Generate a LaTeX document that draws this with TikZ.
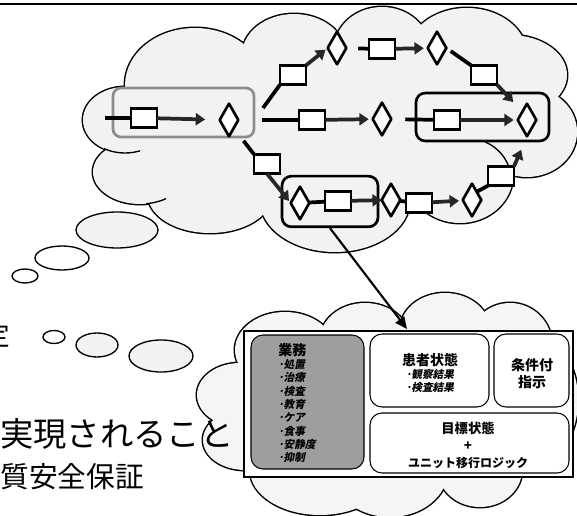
\documentclass[tikz,border=0pt]{standalone}
\usepackage{fontspec}
\newfontfamily\jp{Noto Sans CJK JP}
\newfontfamily\jpsl{Noto Sans CJK JP}[FakeSlant=0.2]
\usetikzlibrary{shapes.geometric,arrows.meta,calc}
\begin{document}
\begin{tikzpicture}[x=0.75pt,y=-0.75pt,
  prect/.style={draw=black, line width=2.1pt, fill=white, minimum width=19.5pt, minimum height=14.5pt, inner sep=0pt, outer sep=0pt},
  pdia/.style={diamond, draw=black, line width=2pt, line join=round, fill=white, minimum width=14pt, minimum height=24.5pt, inner sep=0pt, outer sep=0pt},
  link/.style={line width=2.8pt, black},
  flow/.style={line width=2.8pt, black!85, -{Triangle[length=7pt,width=9pt]}},
  gframe/.style={draw=black!45, line width=2pt, rounded corners=6pt, inner sep=0pt},
  bframe/.style={draw=black, line width=2pt, rounded corners=7pt, inner sep=0pt},
  cloudline/.style={line width=2.2pt, black},
  bubble/.style={draw=black, line width=1pt},
  ibox/.style={draw=black, line width=0.8pt, rounded corners=9pt, inner sep=0pt, fill=white},
  bigarrow/.style={line width=1.6pt, black, -{Triangle[length=9pt,width=8pt]}},
]
\useasboundingbox (0,0) rectangle (577,516);
\clip (0,0) rectangle (577,516);

% top rule
\coordinate (tl) at (0,4);
\coordinate (tr) at (577,4);
\draw[line width=1.4pt] (tl) -- (tr);

% ---------- top cloud (union of bumps) ----------
\def\topcloud{125/120/42/33, 140/172/47/32, 210/195/62/38, 335/200/75/52,
  460/175/53/48, 527/132/50/45, 510/75/57/40, 467/55/60/47, 382/50/48/43,
  294/55/52/41, 195/85/70/57, 320/130/170/80}
\foreach \cx/\cy/\rx/\ry in \topcloud
  \draw[cloudline] (\cx,\cy) ellipse [x radius=\rx, y radius=\ry];
\foreach \cx/\cy/\rx/\ry in \topcloud
  \fill[black!5] (\cx,\cy) ellipse [x radius=\rx, y radius=\ry];
\begin{scope}
  \clip (104,142) rectangle (140,160);
  \draw[line width=1pt] (125,120) ellipse [x radius=42, y radius=33];
\end{scope}
\begin{scope}
  \clip (146,192) rectangle (166,208);
  \draw[line width=1pt] (140,172) ellipse [x radius=47, y radius=32];
\end{scope}
\draw[line width=1pt] (512,180) .. controls (510,162) and (500,148) .. (485,142);

% ---------- thought bubbles ----------
\draw[bubble, fill=black!5] (117,230) ellipse [x radius=41, y radius=18];
\draw[bubble, fill=white] (62,258) ellipse [x radius=27, y radius=12];
\draw[bubble, fill=white] (25,276) ellipse [x radius=13, y radius=7];
\draw[bubble, fill=white] (54,337) ellipse [x radius=11, y radius=6.5];
\draw[bubble, fill=black!5] (97,345) ellipse [x radius=21, y radius=12];
\draw[bubble, fill=black!5] (161,356) ellipse [x radius=32, y radius=16];

% ---------- bottom cloud ----------
\def\botcloud{285/350/50/38, 365/340/45/37, 445/330/45/37, 510/345/42/42,
  540/400/38/60, 240/395/43/32, 245/440/42/30, 320/470/70/45, 390/470/58/47,
  480/470/42/37, 400/400/150/80}
\foreach \cx/\cy/\rx/\ry in \botcloud
  \draw[cloudline] (\cx,\cy) ellipse [x radius=\rx, y radius=\ry];
\foreach \cx/\cy/\rx/\ry in \botcloud
  \fill[black!4] (\cx,\cy) ellipse [x radius=\rx, y radius=\ry];

% ---------- frames around process parts ----------
\node[gframe, minimum width=105.75pt, minimum height=36.75pt] (gbox) at (183.5,112.5) {};
\node[bframe, minimum width=99.75pt, minimum height=36pt] (box1) at (482.5,117) {};
\node[bframe, minimum width=72pt, minimum height=38pt] (box2) at (330,201.5) {};

% ---------- process nodes ----------
\node[prect] (r1) at (144,118) {};
\node[pdia]  (d1) at (229,120) {};
\node[prect] (r2) at (312,120) {};
\node[pdia]  (d2) at (382,119) {};
\node[prect] (r3) at (447,120) {};
\node[pdia]  (d3) at (527,120) {};
\node[prect] (r4) at (293,75) {};
\node[pdia]  (d4) at (337,48) {};
\node[prect] (r5) at (382,49) {};
\node[pdia]  (d5) at (437,48) {};
\node[prect] (r6) at (484,75) {};
\node[prect] (r7) at (267,164) {};
\node[pdia]  (d6) at (300,203) {};
\node[prect] (r8) at (338,201) {};
\node[pdia]  (d7) at (391,200) {};
\node[prect] (r9) at (419,203) {};
\node[pdia]  (d8) at (472,200) {};
\node[prect] (r10) at (501,176) {};
\coordinate (s0) at (105,118);

% ---------- process connectors ----------
\draw[link] (s0) -- (r1);
\draw[flow, shorten >=11pt] (r1) -- (d1);
\draw[link, shorten <=18pt] (d1) -- (r2);
\draw[flow, shorten >=3pt] (r2) -- (d2);
\draw[link, shorten <=10.5pt] (d2) -- (r3);
\draw[flow, shorten >=3pt] (r3) -- (d3);
\draw[link] ($(d1.center)+(34,-12)$) -- (r4.south west);
\draw[flow, shorten >=2pt] (r4.north east) -- (d4.west);
\draw[link, shorten <=9pt] (d4) -- (r5);
\draw[flow, shorten >=3pt] (r5) -- (d5);
\draw[link, shorten <=4pt] (d5.east) -- (r6.north west);
\draw[flow, shorten >=10pt] (r6.south east) -- (d3.north west);
\draw[link, shorten <=12pt] (d1.south east) -- (r7.north west);
\draw[flow, shorten >=2pt] (r7.south) -- (d6.west);
\draw[link] (d6) -- (r8);
\draw[flow] (r8) -- (d7);
\draw[link] (d7) -- (r9);
\draw[flow, shorten >=3pt] (r9) -- (d8);
\draw[link] (d8.north east) -- (r10.south west);
\draw[flow, shorten >=11pt] (r10.north east) -- (d3.south);

% ---------- big rectangle with contents ----------
\node[draw=black, line width=1.8pt, fill=white, inner sep=0pt,
      minimum width=246.75pt, minimum height=109.5pt] (big) at (408.5,404) {};
\coordinate (tipB) at (407,329);
\draw[bigarrow] (box2.south) -- (tipB);

\node[ibox, fill=black!38, minimum width=84.75pt, minimum height=100.5pt] (work) at (307.5,402) {};
\node[ibox, minimum width=89.25pt, minimum height=54.75pt] (patient) at (429.5,370.5) {};
\node[ibox, minimum width=56.25pt, minimum height=54.75pt] (cond) at (531.5,370.5) {};
\node[ibox, minimum width=149.25pt, minimum height=45pt] (goal) at (469.5,443) {};

\node[anchor=north west, inner sep=0pt, align=left,
      font=\jpsl\bfseries\fontsize{8}{10}\selectfont] (worktxt) at (278,343)
  {{\jp\bfseries\fontsize{10.5}{10}\selectfont 業務}\\･処置\\･治療\\･検査\\･教育\\･ケア\\･食事\\･安静度\\･抑制};
\node[inner sep=0pt, align=center, font=\jp\bfseries\fontsize{10.5}{10}\selectfont] (pattxt) at (430,373)
  {患者状態\\{\jpsl\bfseries\fontsize{8}{10}\selectfont ･観察結果}\\{\jpsl\bfseries\fontsize{8}{10}\selectfont ･検査結果}};
\node[inner sep=0pt, align=center, font=\jp\bfseries\fontsize{10.5}{12.75}\selectfont] (condtxt) at (532,373.5)
  {条件付\\指示};
\node[inner sep=0pt, align=center, font=\jp\bfseries\fontsize{10}{12.75}\selectfont] (goaltxt) at (468,445)
  {目標状態\\+\\{\fontsize{9}{12.75}\selectfont ユニット移行ロジック}};

% ---------- left text ----------
\node[anchor=east, inner sep=0pt, font=\jp\fontsize{20}{20}\selectfont] (t0) at (10,335) {定};
\node[anchor=west, inner sep=0pt, font=\jp\fontsize{25}{25}\selectfont] (t1) at (0,434) {実現されること};
\node[anchor=east, inner sep=0pt, font=\jp\fontsize{21.5}{24}\selectfont] (t2) at (144,477) {質安全保証};
\end{tikzpicture}
\end{document}
